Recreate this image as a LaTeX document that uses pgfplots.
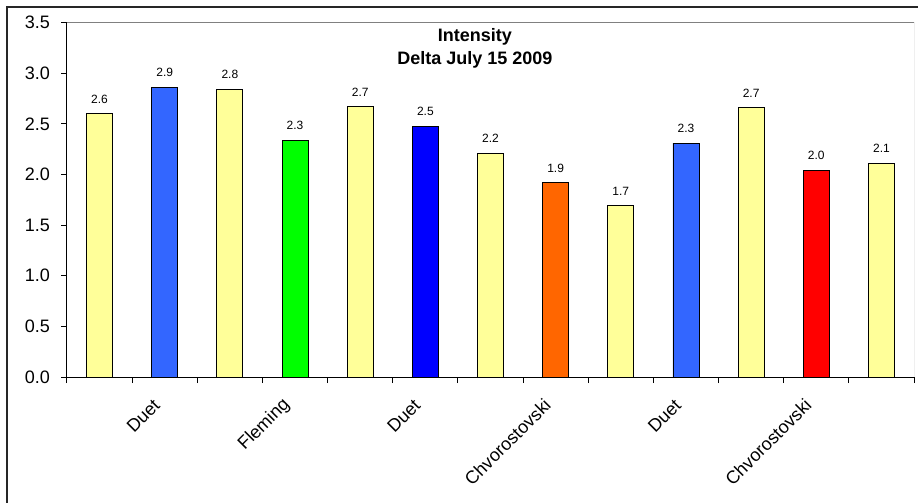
\documentclass[border=0pt]{standalone}
\usepackage{fontspec}
\setmainfont{Liberation Sans}
\usepackage{pgfplots}
\pgfplotsset{compat=1.18}

\definecolor{paleyellow}{HTML}{FFFF99}
\definecolor{midblue}{HTML}{3366FF}
\definecolor{puregreen}{HTML}{00FF00}
\definecolor{pureblue}{HTML}{0000FF}
\definecolor{deeporange}{HTML}{FF6600}
\definecolor{purered}{HTML}{FF0000}

\begin{document}
\begin{tikzpicture}
% page extent
\useasboundingbox (-67pt,-126pt) rectangle (851pt,377pt);
\begin{axis}[
  scale only axis,
  width=847pt, height=354.3pt,
  xmin=0.5, xmax=13.5, ymin=0, ymax=3.5,
  axis x line*=bottom, axis y line*=left,
  axis line style={black, line width=1pt, -},
  ybar, bar width=26pt, bar shift=0pt,
  every axis plot/.append style={draw=black, line width=0.9pt},
  tick align=outside,
  major tick length=6pt,
  tick style={black, line width=1pt},
  ytick={0,0.5,...,3.5},
  xtick={0.5,1.5,...,13.5},
  xticklabels={},
  extra x ticks={2,4,6,8,10,12},
  extra x tick labels={Duet,Fleming,Duet,Chvorostovski,Duet,Chvorostovski},
  extra x tick style={major tick length=0pt,
    tick label style={xshift=-8pt, yshift=-25pt, rotate=45, anchor=east, inner sep=0pt}},
  ticklabel style={font=\fontsize{18}{21}\selectfont},
  yticklabel style={inner sep=0pt, xshift=-11pt},
  /pgf/number format/fixed,
  /pgf/number format/fixed zerofill,
  /pgf/number format/precision=1,
  /pgf/number format/assume math mode=true,
  nodes near coords,
  nodes near coords style={font=\fontsize{12}{14}\selectfont, inner sep=0pt, anchor=south, yshift=10pt, text=black},
]
\addplot[fill=paleyellow] coordinates {(1,2.60) (3,2.84) (5,2.67) (7,2.21) (9,1.69) (11,2.66) (13,2.11)};
\addplot[fill=midblue] coordinates {(2,2.86) (10,2.31)};
\addplot[fill=puregreen] coordinates {(4,2.34)};
\addplot[fill=pureblue] coordinates {(6,2.48)};
\addplot[fill=deeporange] coordinates {(8,1.92)};
\addplot[fill=purered] coordinates {(12,2.04)};
% grey frame on the top and right of the plot area
\draw[color=black!50, line width=1pt] (rel axis cs:0,1) -- (rel axis cs:1,1) -- (rel axis cs:1,0);
\node[anchor=north, align=center, inner sep=0pt, yshift=-5.6pt,
      font=\fontsize{18}{23}\selectfont\bfseries] at (6.76,3.5)
  {Intensity\\Delta July 15 2009};
\end{axis}
% outer chart border
\draw[line width=2.4pt, color=black!85, line join=miter]
  (-60pt,-140pt) -- (-60pt,370pt) -- (870pt,370pt);
\end{tikzpicture}
\end{document}
